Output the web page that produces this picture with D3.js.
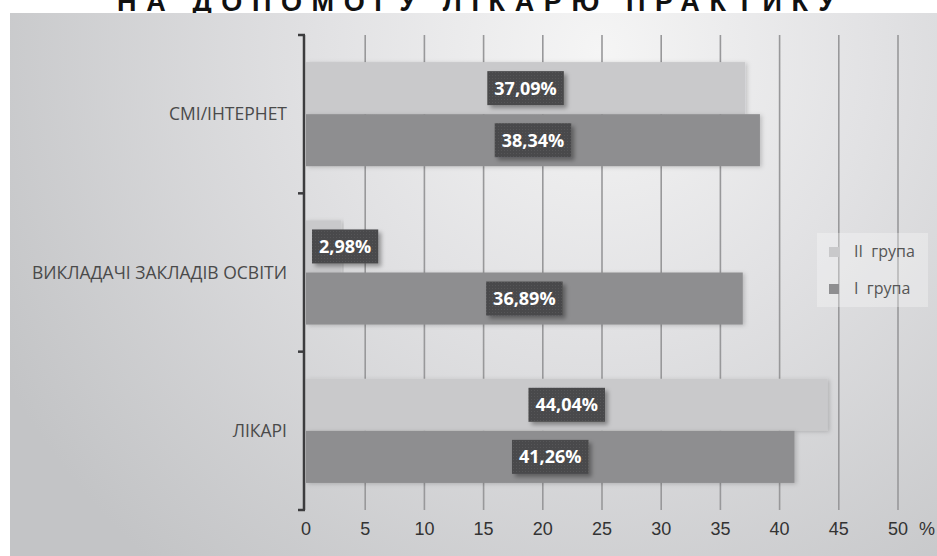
<!DOCTYPE html>
<html>
<head>
<meta charset="utf-8">
<script src="https://cdn.jsdelivr.net/npm/d3@7/dist/d3.min.js"></script>
<style>
  body { margin: 0; background: #fff; }
  svg { display: block; }
</style>
</head>
<body>
<script>
// data
var categories = ["СМІ/ІНТЕРНЕТ", "ВИКЛАДАЧІ ЗАКЛАДІВ ОСВІТИ", "ЛІКАРІ"];
var seriesNames = ["II  група", "I  група"];
var group2 = [37.09, 2.98, 44.04];
var group1 = [38.34, 36.89, 41.26];
var labels2 = ["37,09%", "2,98%", "44,04%"];
var labels1 = ["38,34%", "36,89%", "41,26%"];
var xTicks = [0, 5, 10, 15, 20, 25, 30, 35, 40, 45, 50];
var title = "НА ДОПОМОГУ ЛІКАРЮ ПРАКТИКУ";

var w = 937, h = 556;
var colors = ["#c9c9cb", "#8e8e90"];

var svg = d3.select("body").append("svg")
    .attr("width", w)
    .attr("height", h);

var defs = svg.append("defs");

var bg = defs.append("radialGradient")
    .attr("id", "bg")
    .attr("gradientUnits", "userSpaceOnUse")
    .attr("cx", 600).attr("cy", 50).attr("r", 680);
bg.append("stop").attr("offset", 0).attr("stop-color", "#f5f5f5");
bg.append("stop").attr("offset", 0.4).attr("stop-color", "#e2e2e4");
bg.append("stop").attr("offset", 1).attr("stop-color", "#c3c4c6");

var shadow = defs.append("filter").attr("id", "shadow")
    .attr("x", "-20%").attr("y", "-30%").attr("width", "150%").attr("height", "170%");
shadow.append("feDropShadow")
    .attr("dx", 3).attr("dy", 3).attr("stdDeviation", 2)
    .attr("flood-color", "#000").attr("flood-opacity", 0.35);

var barShadow = defs.append("filter").attr("id", "barShadow")
    .attr("x", "-5%").attr("y", "-10%").attr("width", "110%").attr("height", "130%");
barShadow.append("feDropShadow")
    .attr("dx", 2).attr("dy", 1).attr("stdDeviation", 2)
    .attr("flood-color", "#000").attr("flood-opacity", 0.18);

// dotted texture on the label boxes
var pat = defs.append("pattern").attr("id", "dots")
    .attr("width", 3).attr("height", 3).attr("patternUnits", "userSpaceOnUse");
pat.append("rect").attr("width", 3).attr("height", 3).attr("fill", "#4a4a4b");
pat.append("rect").attr("width", 1).attr("height", 1).attr("fill", "#575758");

// title, mostly cut off by the top edge (as in the reference)
svg.append("text")
    .attr("x", 117)
    .attr("y", 11)
    .attr("textLength", 718)
    .attr("lengthAdjust", "spacing")
    .attr("font-family", "Liberation Sans, Arial, sans-serif")
    .attr("font-weight", "bold")
    .attr("font-size", 27)
    .attr("fill", "#111")
    .text(title);

// panel
svg.append("rect")
    .attr("x", 10).attr("y", 13)
    .attr("width", w - 10).attr("height", h - 13)
    .attr("fill", "url(#bg)");

var x = d3.scaleLinear().domain([0, 50]).range([306, 898]);
var y0 = d3.scaleBand().domain(categories).range([35, 510]).padding(0);
var y1 = d3.scaleBand().domain(seriesNames).range([0, y0.bandwidth()])
    .paddingInner(0).paddingOuter(0.52);

var g = svg.append("g");

// gridlines (run down past the plot as tick marks)
g.append("g")
    .selectAll("line")
    .data(xTicks.slice(1))
    .enter()
    .append("line")
    .attr("x1", d => x(d)).attr("x2", d => x(d))
    .attr("y1", 35).attr("y2", 510)
    .attr("stroke", "#98989a")
    .attr("stroke-width", 1.6);

// tick labels
g.append("g")
    .selectAll("text")
    .data(xTicks)
    .enter()
    .append("text")
    .attr("x", d => x(d))
    .attr("y", 535)
    .attr("text-anchor", "middle")
    .attr("font-family", "Liberation Sans, Arial, sans-serif")
    .attr("font-size", 18)
    .attr("fill", "#333")
    .text(d => d);

g.append("text")
    .attr("x", 919).attr("y", 535)
    .attr("font-family", "Liberation Sans, Arial, sans-serif")
    .attr("font-size", 18)
    .attr("fill", "#333")
    .text("%");

// bars
var rows = categories.map(function(c, i) {
    return [
        {cat: c, s: seriesNames[0], v: group2[i], lab: labels2[i], color: colors[0]},
        {cat: c, s: seriesNames[1], v: group1[i], lab: labels1[i], color: colors[1]}
    ];
});
var flat = [].concat.apply([], rows);

g.append("g")
    .selectAll("rect")
    .data(flat)
    .enter()
    .append("rect")
    .attr("x", x(0))
    .attr("y", d => y0(d.cat) + y1(d.s))
    .attr("width", d => x(d.v) - x(0))
    .attr("height", y1.bandwidth())
    .attr("fill", d => d.color)
    .attr("filter", "url(#barShadow)");

// vertical axis with bracket ticks
var axisX = 304;
g.append("line")
    .attr("x1", axisX).attr("x2", axisX)
    .attr("y1", 35).attr("y2", 510)
    .attr("stroke", "#3c3c3e").attr("stroke-width", 2.5);
g.append("g")
    .selectAll("line")
    .data([35].concat(categories.map(c => y0(c) + y0.bandwidth())))
    .enter()
    .append("line")
    .attr("x1", axisX - 6).attr("x2", axisX + 1)
    .attr("y1", d => d).attr("y2", d => d)
    .attr("stroke", "#3c3c3e").attr("stroke-width", 2.5);

// category labels
g.append("g")
    .selectAll("text")
    .data(categories)
    .enter()
    .append("text")
    .attr("x", 287)
    .attr("y", d => y0(d) + y0.bandwidth() / 2 + 6)
    .attr("text-anchor", "end")
    .attr("font-family", "Open Sans, sans-serif")
    .attr("font-size", 17.5)
    .attr("fill", "#4a4a4a")
    .text(d => d);

// value labels in dark boxes
var lab = g.append("g")
    .selectAll("g")
    .data(flat)
    .enter()
    .append("g");

lab.append("rect").attr("class", "box")
    .attr("fill", "url(#dots)")
    .attr("filter", "url(#shadow)");

lab.append("text")
    .attr("text-anchor", "middle")
    .attr("font-family", "Open Sans, sans-serif")
    .attr("font-weight", "bold")
    .attr("font-size", 18)
    .attr("fill", "#fff")
    .text(d => d.lab);

lab.each(function(d) {
    var sel = d3.select(this);
    var tw = sel.select("text").node().getComputedTextLength();
    var bw = tw + 14, bh = 34;
    var cx = (x(0) + x(d.v)) / 2;
    if (cx - bw / 2 < x(0) + 6) cx = x(0) + 6 + bw / 2;
    var cy = y0(d.cat) + y1(d.s) + y1.bandwidth() / 2;
    sel.select("rect")
        .attr("x", cx - bw / 2).attr("y", cy - bh / 2)
        .attr("width", bw).attr("height", bh);
    sel.select("text")
        .attr("x", cx).attr("y", cy + 6.5);
});

// legend
var legend = svg.append("g");
legend.append("rect")
    .attr("x", 817).attr("y", 233)
    .attr("width", 111).attr("height", 74)
    .attr("fill", "#fff").attr("fill-opacity", 0.3);

var li = legend.selectAll("g.item")
    .data(seriesNames)
    .enter()
    .append("g")
    .attr("class", "item")
    .attr("transform", (d, i) => "translate(829," + (247 + i * 37) + ")");
li.append("rect")
    .attr("width", 10).attr("height", 10)
    .attr("fill", (d, i) => colors[i]);
li.append("text")
    .attr("x", 25).attr("y", 10)
    .attr("font-family", "Open Sans, sans-serif")
    .attr("font-size", 16)
    .attr("fill", "#555")
    .style("white-space", "pre")
    .text(d => d);
</script>
</body>
</html>
